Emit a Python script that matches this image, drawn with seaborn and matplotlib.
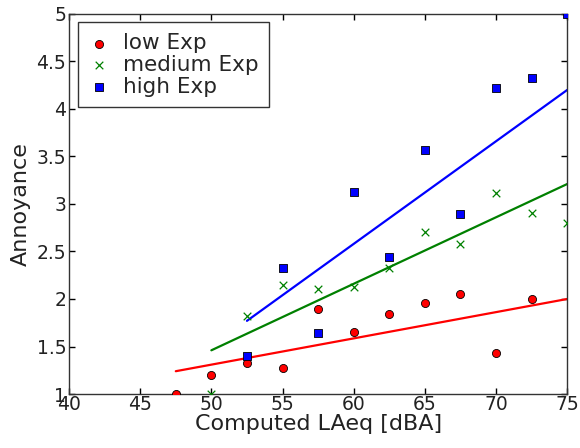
import matplotlib
matplotlib.use("Agg")
import matplotlib.pyplot as plt
import seaborn as sns

# ---- data ----
x_low = [47.5, 50, 52.5, 55, 57.5, 60, 62.5, 65, 67.5, 70, 72.5]
y_low = [1.0, 1.2, 1.33, 1.27, 1.89, 1.65, 1.84, 1.96, 2.05, 1.43, 2.0]

x_med = [50, 52.5, 55, 57.5, 60, 62.5, 65, 67.5, 70, 72.5, 75]
y_med = [1.0, 1.82, 2.15, 2.11, 2.13, 2.33, 2.71, 2.58, 3.12, 2.90, 2.80]

x_high = [52.5, 55, 57.5, 60, 62.5, 65, 67.5, 70, 72.5, 75]
y_high = [1.40, 2.33, 1.64, 3.13, 2.44, 3.57, 2.89, 4.22, 4.33, 5.0]

fit_low_x = [47.5, 75]
fit_low_y = [1.24, 2.0]
fit_med_x = [50, 75]
fit_med_y = [1.46, 3.21]
fit_high_x = [52.5, 75]
fit_high_y = [1.77, 4.20]

x_ticks = [40, 45, 50, 55, 60, 65, 70, 75]
y_ticks = [1, 1.5, 2, 2.5, 3, 3.5, 4, 4.5, 5]
y_tick_labels = ["1", "1.5", "2", "2.5", "3", "3.5", "4", "4.5", "5"]

labels = ["low Exp", "medium Exp", "high Exp"]
colors = ["#ff0000", "#008000", "#0000ff"]

sns.set_style("ticks")
plt.rcParams["font.family"] = ["DejaVu Sans"]

fig = plt.figure(figsize=(5.8, 4.48), dpi=100)
ax = fig.add_axes([0.119, 0.1205, 0.859, 0.8485])

# fit lines
for fx, fy, c in [(fit_low_x, fit_low_y, colors[0]),
                  (fit_med_x, fit_med_y, colors[1]),
                  (fit_high_x, fit_high_y, colors[2])]:
    sns.lineplot(x=fx, y=fy, color=c, linewidth=1.6, ax=ax, legend=False)

# scatter points
sns.scatterplot(x=x_low, y=y_low, marker="o", color=colors[0], edgecolor="black",
                linewidth=0.6, s=34, ax=ax, label=labels[0], zorder=3)
sns.scatterplot(x=x_med, y=y_med, marker="x", color=colors[1],
                linewidth=0.9, s=30, ax=ax, label=labels[1], zorder=3)
sns.scatterplot(x=x_high, y=y_high, marker="s", color=colors[2], edgecolor="black",
                linewidth=0.6, s=30, ax=ax, label=labels[2], zorder=3)

ax.set_xlim(40, 75)
ax.set_ylim(1, 5)
ax.set_xticks(x_ticks)
ax.set_xticklabels([str(t) for t in x_ticks])
ax.set_yticks(y_ticks)
ax.set_yticklabels(y_tick_labels)
ax.tick_params(direction="in", length=4, width=1, top=True, right=True,
               labelsize=13.5, pad=2, colors="black")
ax.tick_params(axis="x", labelcolor="#222222", pad=1)
ax.tick_params(axis="y", labelcolor="#222222")
for sp in ax.spines.values():
    sp.set_visible(True)
    sp.set_color("#333333")
    sp.set_linewidth(1)

ax.set_xlabel("Computed LAeq [dBA]", fontsize=16, labelpad=0, color="#222222")
ax.set_ylabel("Annoyance", fontsize=16, labelpad=4, color="#222222")

leg = ax.legend(loc="upper left", fontsize=15.5, fancybox=False, frameon=True,
                edgecolor="#333333", framealpha=1, borderaxespad=0.4,
                handletextpad=0.6, labelspacing=0.08, borderpad=0.5,
                handlelength=1.0)
leg.get_frame().set_linewidth(1)

fig.savefig("out.png", dpi=100)
